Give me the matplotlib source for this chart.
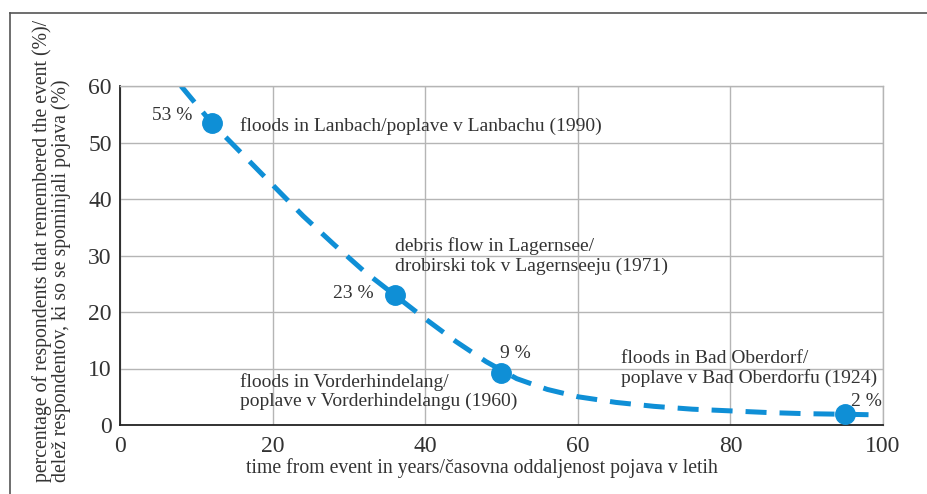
import matplotlib
matplotlib.use('Agg')
import matplotlib.pyplot as plt
from matplotlib.lines import Line2D

plt.rcParams['font.family'] = ['Liberation Serif', 'DejaVu Serif']

# curve
curve_x = [8, 12, 16, 20, 24, 28, 32, 36, 40, 44, 48, 52, 56, 60, 65, 70, 75, 80, 85, 90, 95, 99]
curve_y = [60, 53.5, 48, 42.5, 37, 32, 27.2, 23, 18.8, 14.8, 11.2, 8.2, 6.3, 5.0, 4.0, 3.3, 2.8, 2.5, 2.2, 2.0, 1.9, 1.8]

# surveyed events
pts_x = [12, 36, 50, 95]
pts_y = [53.5, 23, 9.2, 2]
pct_labels = ['53 %', '23 %', '9 %', '2 %']

xticks = [0, 20, 40, 60, 80, 100]
yticks = [0, 10, 20, 30, 40, 50, 60]

blue = '#0f8fd6'
txt = '#333333'

fig = plt.figure(figsize=(9.28, 4.94), dpi=100)
ax = fig.add_axes([120/928, 1-425/494, 763/928, 339/494])

ax.plot(curve_x, curve_y, color=blue, lw=3.6, dashes=(4.2, 2.6), solid_capstyle='butt')
ax.plot(pts_x, pts_y, 'o', color=blue, ms=14, zorder=5)

ax.set_xlim(0, 100)
ax.set_ylim(0, 60)
ax.set_xticks(xticks)
ax.set_yticks(yticks)
ax.grid(True, color='#b5b5b5', lw=1)
ax.set_axisbelow(True)
ax.tick_params(length=0, labelsize=17, labelcolor=txt, pad=6)
ax.tick_params(axis='x', pad=8)
for s in ['top', 'right']:
    ax.spines[s].set_color('#b5b5b5')
    ax.spines[s].set_linewidth(1)
for s in ['left', 'bottom']:
    ax.spines[s].set_color('#222222')
    ax.spines[s].set_linewidth(1.3)

fs = 14
ax.text(9.5, 54.7, pct_labels[0], ha='right', va='center', fontsize=fs, color=txt)
ax.text(15.7, 52.9, 'floods in Lanbach/poplave v Lanbachu (1990)', ha='left', va='center', fontsize=fs, color=txt)
ax.text(36.1, 29.9, 'debris flow in Lagernsee/\ndrobirski tok v Lagernseeju (1971)', ha='left', va='center',
        fontsize=fs, color=txt, linespacing=1.15)
ax.text(33.3, 23.2, pct_labels[1], ha='right', va='center', fontsize=fs, color=txt)
ax.text(49.8, 12.7, pct_labels[2], ha='left', va='center', fontsize=fs, color=txt)
ax.text(15.7, 5.9, 'floods in Vorderhindelang/\npoplave v Vorderhindelangu (1960)', ha='left', va='center',
        fontsize=fs, color=txt, linespacing=1.15)
ax.text(65.6, 10.0, 'floods in Bad Oberdorf/\npoplave v Bad Oberdorfu (1924)', ha='left', va='center',
        fontsize=fs, color=txt, linespacing=1.15)
ax.text(99.9, 4.2, pct_labels[3], ha='right', va='center', fontsize=fs, color=txt)

fig.text(482/928, 1-468/494, 'time from event in years/časovna oddaljenost pojava v letih',
         ha='center', va='center', fontsize=14.2, color=txt)
fig.text(42/928, 1-482/494, 'percentage of respondents that remembered the event (%)/',
         rotation=90, rotation_mode='anchor', ha='left', va='center', fontsize=14.2, color=txt)
fig.text(61/928, 1-482/494, 'delež respondentov, ki so se spominjali pojava (%)',
         rotation=90, rotation_mode='anchor', ha='left', va='center', fontsize=14.2, color=txt)

# outer frame
fig.add_artist(Line2D([10/928, 1], [1-13/494, 1-13/494], color='#555555', lw=1.2, transform=fig.transFigure))
fig.add_artist(Line2D([10/928, 10/928], [0, 1-13/494], color='#555555', lw=1.2, transform=fig.transFigure))

fig.savefig('out.png', dpi=100)
